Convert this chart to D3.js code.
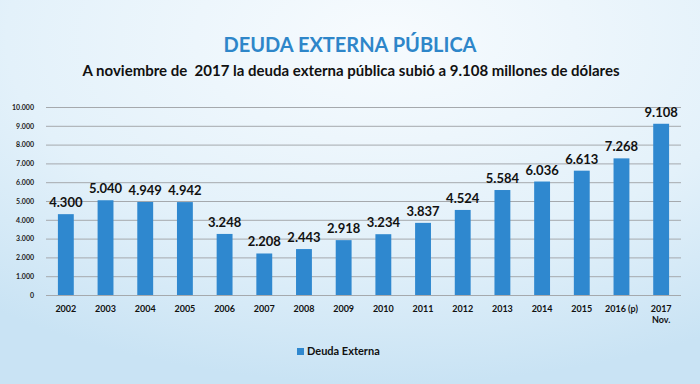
<!DOCTYPE html>
<html>
<head>
<meta charset="utf-8">
<script src="https://cdn.jsdelivr.net/npm/d3@7"></script>
<style>
body { margin: 0; }
svg { display: block; font-family: Lato, "Open Sans", sans-serif; }
</style>
</head>
<body>
<div id="graphic"></div>
<script>
const years = ["2002", "2003", "2004", "2005", "2006", "2007", "2008", "2009", "2010", "2011", "2012", "2013", "2014", "2015", "2016 (p)", "2017|Nov."];
const deuda = [4300, 5040, 4949, 4942, 3248, 2208, 2443, 2918, 3234, 3837, 4524, 5584, 6036, 6613, 7268, 9108];
const yTicks = [0, 1000, 2000, 3000, 4000, 5000, 6000, 7000, 8000, 9000, 10000];

const width = 700, height = 384;
const margin = { top: 107, right: 19, bottom: 89, left: 46 };
const fmt = d3.formatLocale({ decimal: ",", thousands: ".", grouping: [3], currency: ["", ""] }).format(",d");

const svg = d3.select('#graphic').append('svg').attr('width', width).attr('height', height);

// background
const defs = svg.append('defs');
const grad = defs.append('radialGradient').attr('id', 'bg')
	.attr('cx', '0.55').attr('cy', '0.1').attr('r', '0.9');
grad.append('stop').attr('offset', '0%').attr('stop-color', '#f7fbfe');
grad.append('stop').attr('offset', '60%').attr('stop-color', '#e3f1fa');
grad.append('stop').attr('offset', '100%').attr('stop-color', '#c9e3f4');
svg.append('rect').attr('width', width).attr('height', height).attr('fill', 'url(#bg)');

// titles
svg.append('text').attr('x', 350).attr('y', 52).attr('text-anchor', 'middle')
	.attr('font-size', 20).attr('font-weight', 'bold').attr('fill', '#2e86c9')
	.text('DEUDA EXTERNA PÚBLICA');
svg.append('text').attr('x', 351).attr('y', 76).attr('text-anchor', 'middle')
	.attr('font-size', 15).attr('font-weight', 'bold').attr('fill', '#111')
	.attr('xml:space', 'preserve')
	.text('A noviembre de  2017 la deuda externa pública subió a 9.108 millones de dólares');

const chartW = width - margin.left - margin.right;
const chartH = height - margin.top - margin.bottom;
const g = svg.append('g').attr('transform', `translate(${margin.left},${margin.top})`);

const x = d3.scaleBand().domain(years).range([0, chartW]).paddingInner(0.6).paddingOuter(0.3);
const y = d3.scaleLinear().domain([0, 10000]).range([chartH, 0]);

// grid + y axis
const yAxis = d3.axisLeft(y).tickValues(yTicks).tickSize(-chartW).tickPadding(12).tickFormat(fmt);
g.append('g').attr('class', 'y axis').call(yAxis)
	.call(s => s.select('.domain').remove())
	.call(s => s.selectAll('line').attr('stroke', '#a5a9ad').attr('stroke-width', 1))
	.call(s => s.selectAll('text').attr('font-size', 7).attr('font-weight', 'bold').attr('fill', '#222').attr('font-family', 'Lato, sans-serif'));

// bars
g.append('g').selectAll('rect').data(deuda).join('rect')
	.attr('x', (d, i) => x(years[i]))
	.attr('y', d => y(d))
	.attr('width', x.bandwidth())
	.attr('height', d => chartH - y(d))
	.attr('fill', '#2f88cf');

// value labels
g.append('g').selectAll('text').data(deuda).join('text')
	.attr('x', (d, i) => x(years[i]) + x.bandwidth() / 2)
	.attr('y', d => y(d) - 7)
	.attr('text-anchor', 'middle')
	.attr('font-size', 13).attr('font-weight', 'bold').attr('fill', '#111')
	.text(d => fmt(d));

// x axis labels
const xl = g.append('g').attr('transform', `translate(0,${chartH})`);
xl.selectAll('text').data(years).join('text')
	.attr('x', d => x(d) + x.bandwidth() / 2)
	.attr('y', 17)
	.attr('text-anchor', 'middle')
	.attr('font-size', 9).attr('font-weight', 'bold').attr('fill', '#111')
	.each(function (d) {
		const parts = d.split('|');
		d3.select(this).selectAll('tspan').data(parts).join('tspan')
			.attr('x', x(d) + x.bandwidth() / 2)
			.attr('dy', (p, k) => k === 0 ? 0 : 11)
			.text(p => p);
	});

// legend
const lg = svg.append('g').attr('transform', 'translate(297,355)');
lg.append('rect').attr('x', 0).attr('y', -7).attr('width', 7).attr('height', 7).attr('fill', '#2f88cf');
lg.append('text').attr('x', 10).attr('y', 0).attr('font-size', 11).attr('font-weight', 'bold').attr('fill', '#111')
	.text('Deuda Externa');
</script>
</body>
</html>
